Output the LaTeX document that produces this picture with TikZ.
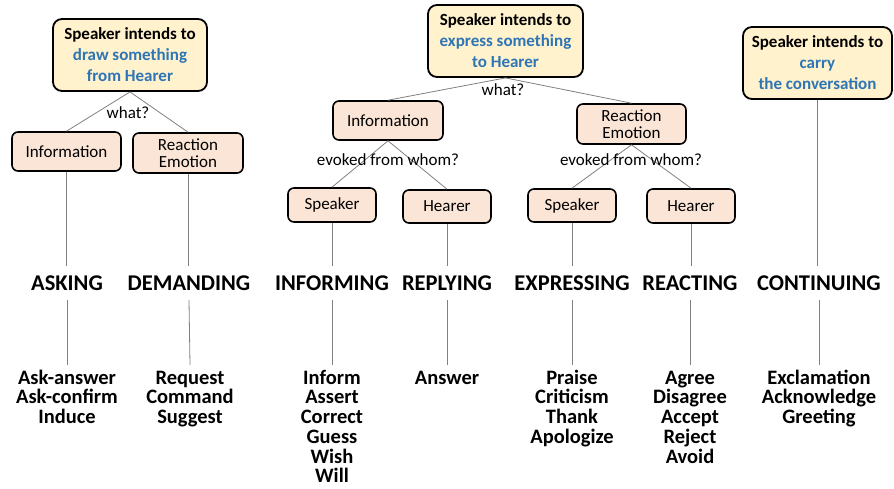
\documentclass[tikz,border=0pt]{standalone}
\usepackage{fontspec}
\setmainfont{Carlito}
\definecolor{topfill}{HTML}{FFF2CC}
\definecolor{subfill}{HTML}{FBE5D6}
\definecolor{hiblue}{HTML}{2E75B6}
\definecolor{linegray}{HTML}{808080}
\begin{document}
\begin{tikzpicture}[x=1pt,y=-1pt,
  topbox/.style={draw=black, line width=1.8pt, fill=topfill, rounded corners=9pt,
    minimum height=72pt, inner sep=0pt, align=center,
    font=\fontsize{17}{21}\selectfont\bfseries},
  subbox/.style={draw=black, line width=1.6pt, fill=subfill, rounded corners=6pt,
    inner sep=0pt, align=center, font=\fontsize{17}{16.5}\selectfont},
  link/.style={draw=linegray, line width=0.8pt},
  cat/.style={font=\fontsize{22.5}{24}\selectfont\bfseries, minimum height=34pt, inner sep=0pt},
  itemlist/.style={font=\fontsize{20.5}{19.7}\selectfont\bfseries, align=center,
    anchor=north, inner sep=0pt},
  lbl/.style={font=\fontsize{17}{17}\selectfont, inner sep=0pt}
]
\useasboundingbox (0,0) rectangle (894,489);

% top boxes
\node[topbox, minimum width=154pt] (top1) at (130,55)
  {Speaker intends to\\\textcolor{hiblue}{draw something}\\\textcolor{hiblue}{from Hearer}};
\node[topbox, minimum width=155pt] (top2) at (505.5,41)
  {Speaker intends to\\\textcolor{hiblue}{express something}\\\textcolor{hiblue}{to Hearer}};
\node[topbox, minimum width=149pt] (top3) at (817.5,63)
  {Speaker intends to\\\textcolor{hiblue}{carry}\\\textcolor{hiblue}{the conversation}};

% second level
\node[subbox, minimum width=109pt, minimum height=39pt] (info1) at (66.5,151.5) {Information};
\node[subbox, minimum width=110pt, minimum height=40pt] (react1) at (188,153) {Reaction\\Emotion};
\node[subbox, minimum width=110pt, minimum height=39pt] (info2) at (388,120.5) {Information};
\node[subbox, minimum width=109pt, minimum height=40pt] (react2) at (631.5,124) {Reaction\\Emotion};

% third level
\node[subbox, minimum width=88pt, minimum height=34pt] (spk1) at (332,205) {Speaker};
\node[subbox, minimum width=88pt, minimum height=33pt] (hear1) at (447,206.5) {Hearer};
\node[subbox, minimum width=88pt, minimum height=33pt] (spk2) at (572,205.5) {Speaker};
\node[subbox, minimum width=88pt, minimum height=34pt] (hear2) at (691,206) {Hearer};

% connectors between boxes
\draw[link] (top1.south) -- (info1.north);
\draw[link] (top1.south) -- (react1.north);
\draw[link] (top2.south) -- (info2.north);
\draw[link] (top2.south) -- (react2.north);
\draw[link] (info2.south) -- (spk1.north);
\draw[link] (info2.south) -- (hear1.north);
\draw[link] (react2.south) -- (spk2.north);
\draw[link] (react2.south) -- (hear2.north);

% labels
\node[lbl] (what1) at (128,113) {what?};
\node[lbl] (what2) at (503,90) {what?};
\node[lbl] (whom1) at (388,160) {evoked from whom?};
\node[lbl] (whom2) at (631,160) {evoked from whom?};

% categories
\node[cat] (asking) at (67,283) {ASKING};
\node[cat] (demanding) at (189,283) {DEMANDING};
\node[cat] (informing) at (332,283) {INFORMING};
\node[cat] (replying) at (447,283) {REPLYING};
\node[cat] (expressing) at (572,283) {EXPRESSING};
\node[cat] (reacting) at (690,283) {REACTING};
\node[cat] (continuing) at (819,283) {CONTINUING};

% item lists
\node[itemlist] (l1) at (67,365) {\rule{0pt}{19pt}Ask-answer\\Ask-confirm\\Induce};
\node[itemlist] (l2) at (190,365) {\rule{0pt}{19pt}Request\\Command\\Suggest};
\node[itemlist] (l3) at (332,365) {\rule{0pt}{19pt}Inform\\Assert\\Correct\\Guess\\Wish\\Will};
\node[itemlist] (l4) at (447,365) {\rule{0pt}{19pt}Answer};
\node[itemlist] (l5) at (572,365) {\rule{0pt}{19pt}Praise\\Criticism\\Thank\\Apologize};
\node[itemlist] (l6) at (690,365) {\rule{0pt}{19pt}Agree\\Disagree\\Accept\\Reject\\Avoid};
\node[itemlist] (l7) at (819,365) {\rule{0pt}{19pt}Exclamation\\Acknowledge\\Greeting};

% vertical connectors
\draw[link] (info1.south) -- (info1.south |- asking.north);
\draw[link] (react1.south) -- (react1.south |- demanding.north);
\draw[link] (spk1.south) -- (spk1.south |- informing.north);
\draw[link] (hear1.south) -- (hear1.south |- replying.north);
\draw[link] (spk2.south) -- (spk2.south |- expressing.north);
\draw[link] (hear2.south) -- (hear2.south |- reacting.north);
\draw[link] (top3.south) -- (top3.south |- continuing.north);

\draw[link] (asking.south) -- (l1.north);
\draw[link] (demanding.south) -- (l2.north);
\draw[link] (informing.south) -- (l3.north);
\draw[link] (replying.south) -- (l4.north);
\draw[link] (expressing.south) -- (l5.north);
\draw[link] (reacting.south) -- (l6.north);
\draw[link] (continuing.south) -- (l7.north);
\end{tikzpicture}
\end{document}
